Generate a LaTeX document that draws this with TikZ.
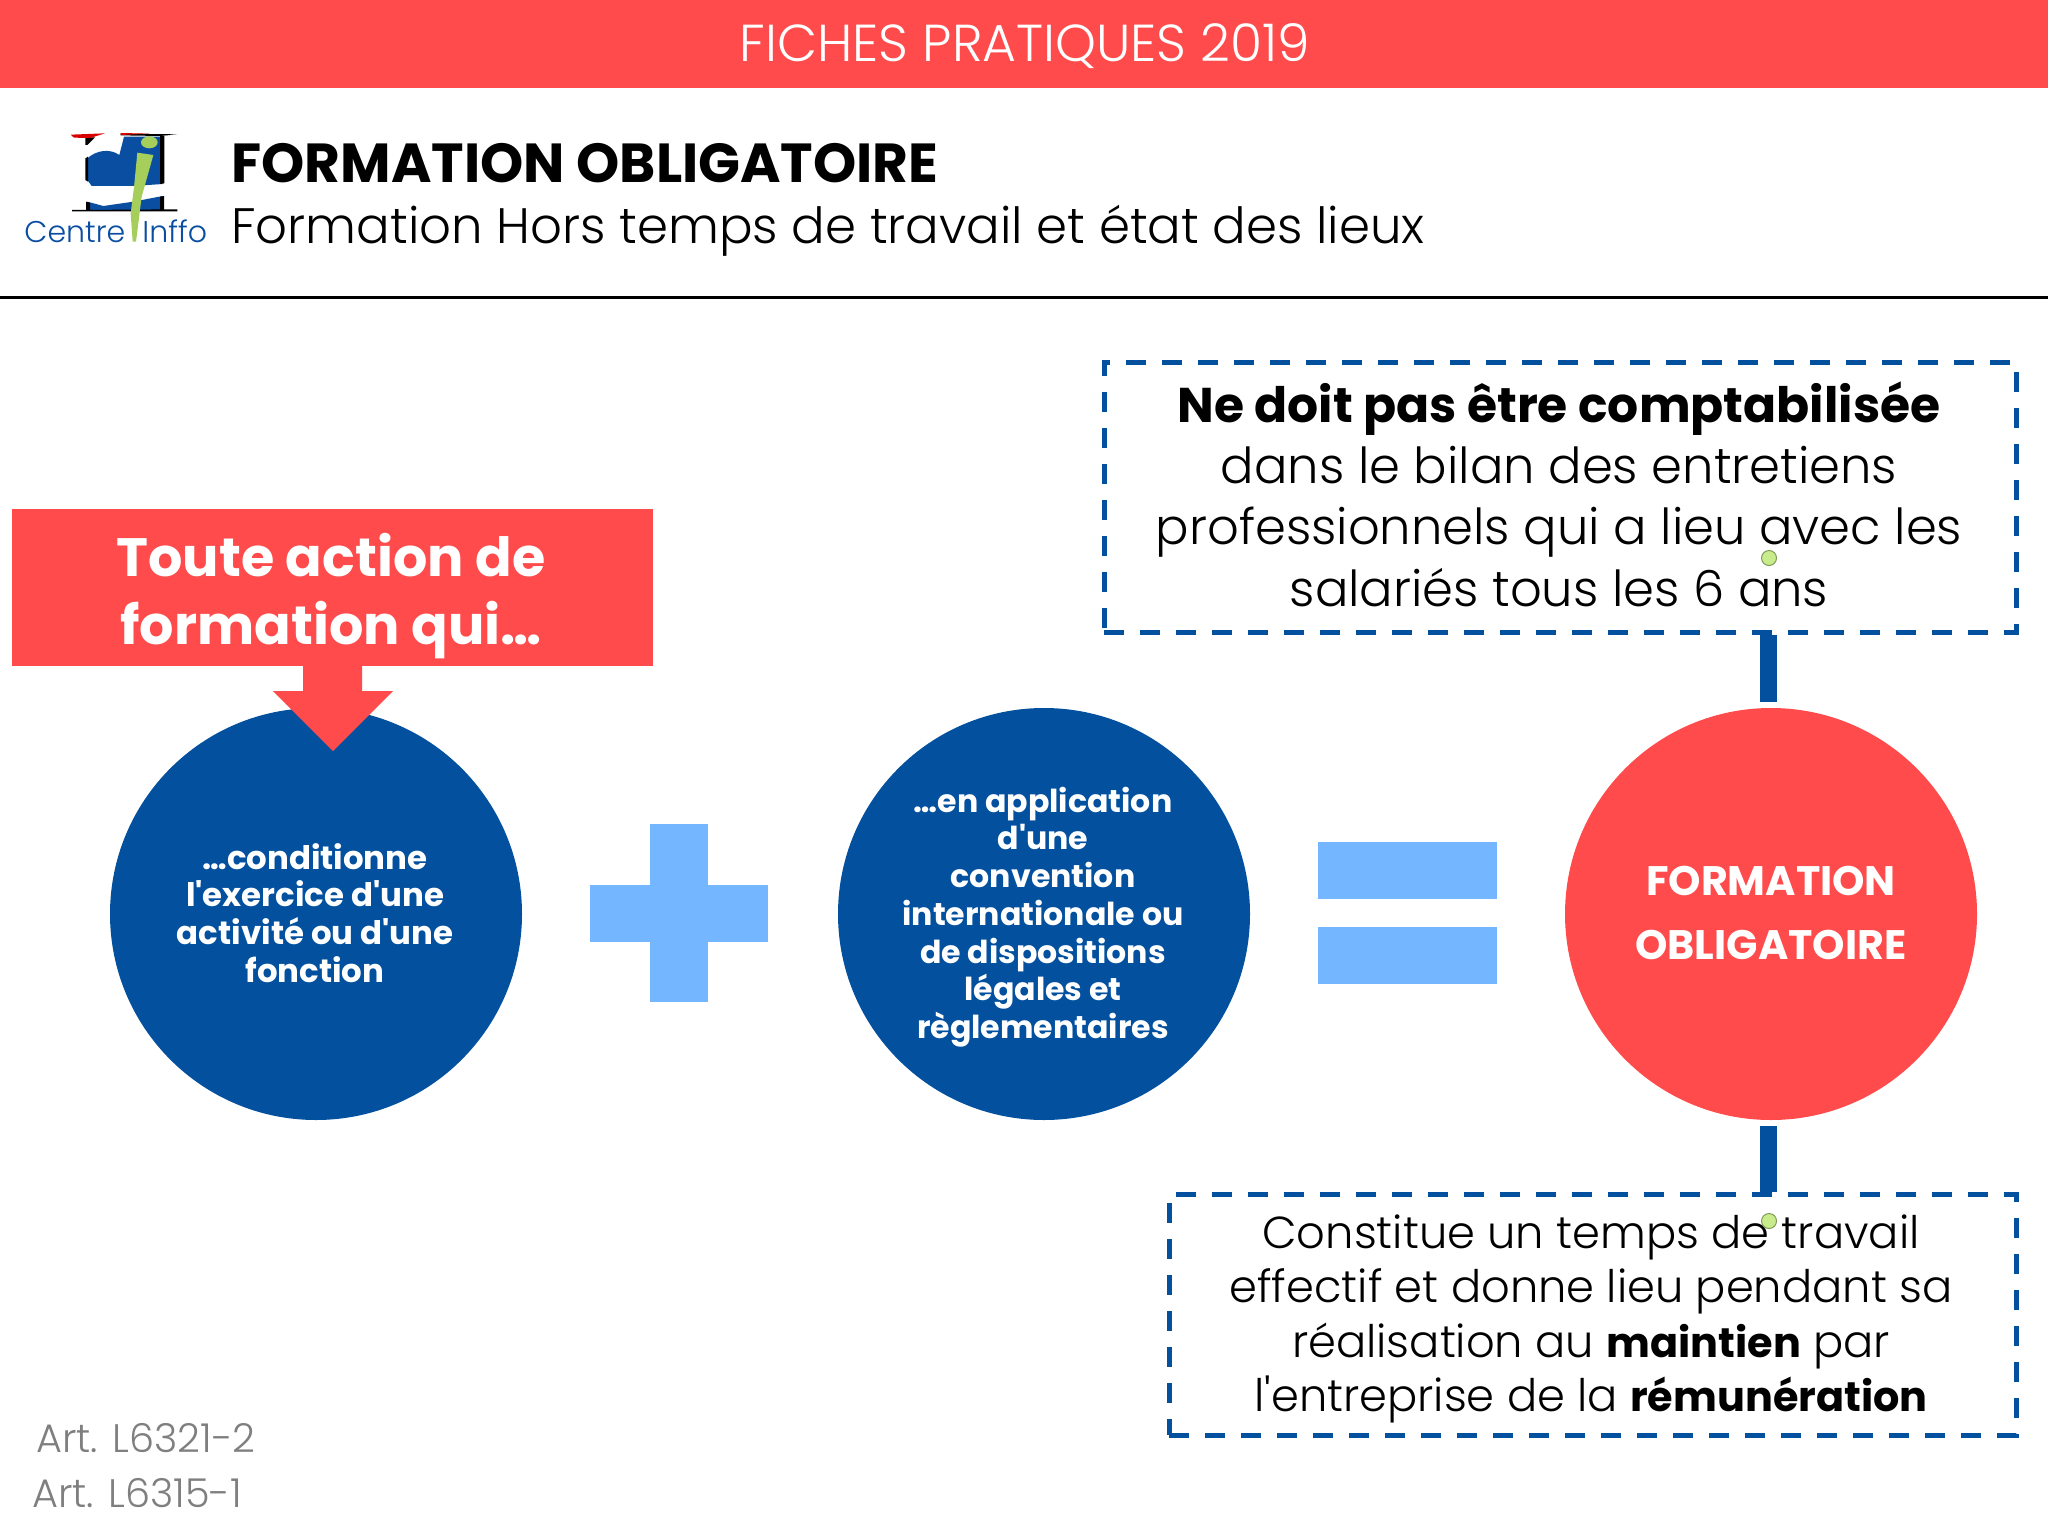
\documentclass[tikz,border=0pt]{standalone}
\usepackage{fontspec}
\setmainfont{Poppins}
\newfontfamily\lightfont{Poppins Light}
\newfontfamily\popfont{Poppins}
\definecolor{redbar}{HTML}{FF4B4B}
\definecolor{navy}{HTML}{03509F}
\definecolor{skyb}{HTML}{74B6FF}
\definecolor{grayart}{HTML}{7F7F7F}
\definecolor{logoblue}{HTML}{0A4EA2}
\definecolor{logogreen}{HTML}{A5CF5A}
\definecolor{dotgreen}{HTML}{C8EC8C}
\definecolor{dotedge}{HTML}{7F9A55}
\newcommand{\fsz}[2]{\fontsize{#1pt}{#2pt}\selectfont}
\newcommand{\bolder}[2]{{\popfont\bfseries\fontsize{#1pt}{10pt}\selectfont #2}}
\tikzset{
  bluedisc/.style={circle,fill=navy,minimum size=206pt,inner sep=0pt},
  reddisc/.style={circle,fill=redbar,minimum size=206pt,inner sep=0pt},
  disctext/.style={inner sep=0pt,align=center,text=white},
  dashbox/.style={draw=navy,line width=2.5pt,dash pattern=on 10pt off 8pt,inner sep=0pt},
  boxtext/.style={inner sep=0pt,align=center,text=black},
  symbolbar/.style={fill=skyb},
  linkbar/.style={draw=navy,line width=8.5pt},
  marker/.style={circle,fill=dotgreen,draw=dotedge,line width=.5pt,minimum size=7.5pt,inner sep=0pt},
  arttext/.style={anchor=west,inner sep=0pt,text=grayart,font=\lightfont\fsz{19.9}{22}},
}
\begin{document}
\begin{tikzpicture}[x=0.5pt,y=-0.5pt]
\useasboundingbox (0,0) rectangle (2048,1535);
\fill[white] (0,0) rectangle (2048,1535);
% header
\fill[redbar] (0,0) rectangle (2048,88);
\node[text=white,inner sep=0pt,font=\lightfont\fsz{26}{30}] (title) at (1025,46) {FICHES PRATIQUES 2019};
\draw[black,line width=1.5pt] (0,298) -- (2048,298);
% logo
\begin{scope}[x=0.16667pt,y=-0.16667pt,shift={(0pt,-50pt)}]
\fill[logoblue] (262,175) .. controls (290,150) and (330,145) .. (358,165) -- (372,110) -- (488,110) -- (488,252) -- (400,258) -- (275,258) -- (262,240) -- cycle;
\fill[logoblue] (262,305) -- (310,318) -- (400,305) -- (488,288) -- (488,330) -- (262,330) -- cycle;
\fill[black] (256,175) -- (264,170) -- (264,245) -- (256,240) -- cycle;
\fill[black] (480,108) -- (493,108) -- (493,250) -- (480,252) -- cycle;
\fill[black] (258,305) -- (270,308) -- (270,330) -- (258,330) -- cycle;
\fill[black] (480,290) -- (492,288) -- (492,330) -- (480,330) -- cycle;
\fill[black] (216,330) -- (532,328) -- (532,334) -- (216,334) -- cycle;
\fill[black] (362,101) -- (532,103) -- (480,108) -- (362,106) -- cycle;
\fill[black] (256,112) -- (285,112) -- (262,135) -- (256,135) -- cycle;
\fill[red!85!black] (212,104) -- (315,100) -- (270,114) -- (222,113) -- cycle;
\fill[red!85!black] (362,99) -- (450,101) -- (362,105) -- cycle;
\fill[logogreen] (448,127) ellipse [x radius=25,y radius=18];
\fill[logogreen] (412,158) -- (460,165) -- (425,290) -- (408,425) -- (398,425) -- (392,340) -- (402,262) -- cycle;
\end{scope}
\node[anchor=base west,inner sep=0pt,text=logoblue,font=\lightfont\fsz{15}{18}] (logoa) at (24,243) {Centre};
\node[anchor=base west,inner sep=0pt,text=logoblue,font=\lightfont\fsz{15}{18}] (logob) at (142,243) {Inffo};
% heading
\node[anchor=west,inner sep=0pt,text=black,font=\popfont\bfseries\fsz{27.5}{32}] (head) at (231,163) {FORMATION OBLIGATOIRE};
\node[anchor=west,inner sep=0pt,text=black,font=\lightfont\fsz{24.9}{30}] (sub) at (231,231) {Formation Hors temps de travail et état des lieux};
% discs
\node[bluedisc] (disca) at (316,914) {};
\node[disctext,font=\popfont\bfseries\fsz{16.2}{18.9}] (discatext) at (315,913) {…conditionne\\l'exercice d'une\\activité ou d'une\\fonction};
\node[bluedisc] (discb) at (1044,914) {};
\node[disctext,font=\popfont\bfseries\fsz{15.8}{18.85}] (discbtext) at (1043,917) {…en application\\d'une\\convention\\internationale ou\\de dispositions\\légales et\\règlementaires};
\node[reddisc] (discc) at (1771,914) {};
\node[disctext,font=\popfont\bfseries\fsz{20.6}{32}] (discctext) at (1771,912.5) {FORMATION\\OBLIGATOIRE};
% plus and equals
\fill[symbolbar] (590,885) rectangle (768,942);
\fill[symbolbar] (650,824) rectangle (708,1002);
\fill[symbolbar] (1318,842) rectangle (1497,899);
\fill[symbolbar] (1318,927) rectangle (1497,984);
% red call-out
\fill[redbar] (303,660) -- (362,660) -- (362,691) -- (393,691) -- (333,751) -- (273,691) -- (303,691) -- cycle;
\node[fill=redbar,minimum width=320.5pt,minimum height=78.5pt,inner sep=0pt] (callout) at (332.5,587.5) {};
\node[text=white,inner sep=0pt,align=center,font=\popfont\bfseries\fsz{27}{34}] (callouttext) at (331,596) {Toute action de\\formation qui…};
% dashed boxes
\node[dashbox,minimum width=456pt,minimum height=135pt] (topbox) at (1560,497) {};
\node[boxtext,font=\lightfont\fsz{24.8}{30.7}] (toptext) at (1559,494) {\bolder{24.4}{Ne doit pas être comptabilisée}\\dans le bilan des entretiens\\professionnels qui a lieu avec les\\salariés tous les 6 ans};
\node[dashbox,minimum width=423.5pt,minimum height=120.5pt] (botbox) at (1592.5,1314.5) {};
\node[boxtext,font=\lightfont\fsz{22.4}{27.3}] (bottext) at (1591,1319) {Constitue un temps de travail\\effectif et donne lieu pendant sa\\réalisation au \bolder{20.7}{maintien} par\\l'entreprise de la \bolder{20.7}{rémunération}};
% connectors
\coordinate (topfoot) at (1768.5,702);
\coordinate (botfoot) at (1768.5,1126);
\draw[linkbar] (topbox.south -| topfoot) -- (topfoot);
\draw[linkbar] (botfoot) -- (botbox.north -| botfoot);
% markers
\node[marker] (dota) at (1769,558) {};
\node[marker] (dotb) at (1769,1221) {};
% references
\node[arttext] (arta) at (36,1438) {Art. L6321-2};
\node[arttext] (artb) at (32,1493) {Art. L6315-1};
\end{tikzpicture}
\end{document}
